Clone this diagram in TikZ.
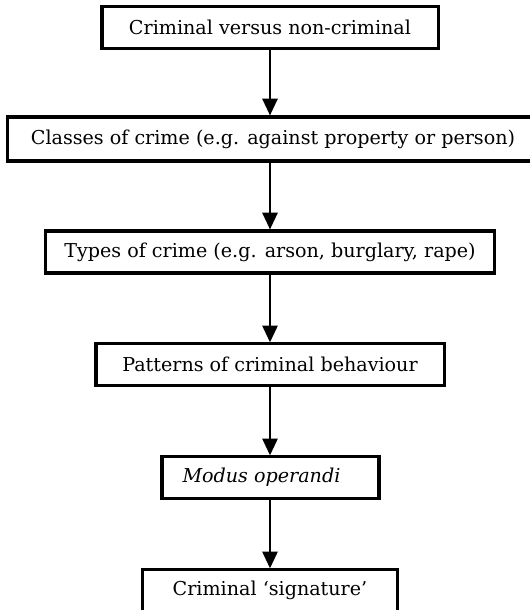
\documentclass[tikz,border=0pt]{standalone}
\usepackage{fontspec}
\setmainfont{DejaVu Serif}
\usepackage{tikz}
\usetikzlibrary{arrows.meta}

\tikzset{stagebox/.style={draw, line width=2.2pt, minimum height=1.03cm, inner sep=0pt, font=\fontsize{13.6}{16}\selectfont}}
\tikzset{stagearrow/.style={line width=1.6pt, -{Triangle[length=0.42cm,width=0.38cm]}}}

\begin{document}
\begin{tikzpicture}[x=0.025cm, y=-0.025cm]
\useasboundingbox (0,0) rectangle (530,610);
\node [stagebox, minimum width=8.4cm] (crim) at (270,27.5) {Criminal versus non-criminal};
\node [stagebox, minimum width=13.25cm, minimum height=1.1cm] (classes) at (273,139) {Classes of crime (e.g. against property or person)};
\node [stagebox, minimum width=11.2cm, minimum height=1.05cm] (types) at (270,252) {Types of crime (e.g. arson, burglary, rape)};
\node [stagebox, minimum width=8.7cm] (patterns) at (270,364.5) {Patterns of criminal behaviour};
\node [stagebox, minimum width=5.425cm] (modus) at (270.5,477.5) {\textit{Modus operandi}\hspace*{0.45cm}};
\node [stagebox, minimum width=6.375cm] (sig) at (270,590.5) {Criminal ‘signature’};
\draw [stagearrow] (crim.south) -- (classes.north -| crim.south);
\draw [stagearrow] (classes.south -| types.north) -- (types.north);
\draw [stagearrow] (types.south) -- (patterns.north);
\draw [stagearrow] (patterns.south) -- (modus.north -| patterns.south);
\draw [stagearrow] (modus.south -| sig.north) -- (sig.north);
\end{tikzpicture}
\end{document}
